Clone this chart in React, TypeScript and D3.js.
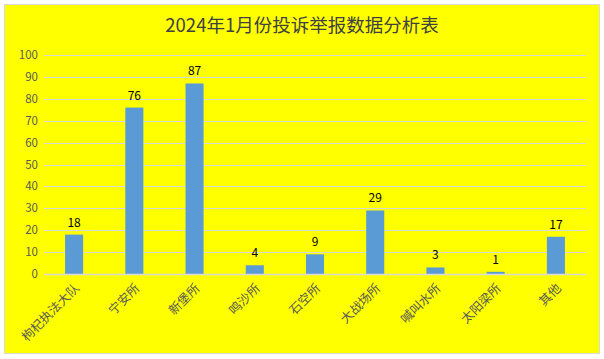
import React from "react";
import * as d3 from "d3";

const categories = ["枸杞执法大队", "宁安所", "新堡所", "鸣沙所", "石空所", "大战场所", "喊叫水所", "太阳梁所", "其他"];
const values = [18, 76, 87, 4, 9, 29, 3, 1, 17];
const yTicks = [0, 10, 20, 30, 40, 50, 60, 70, 80, 90, 100];
const title = "2024年1月份投诉举报数据分析表";

export default function App() {
  const W = 604, H = 359;
  const left = 44, right = 586, top = 55, bottom = 274;
  const x = d3.scaleBand<string>().domain(categories).range([left, right]).paddingInner(0.7).paddingOuter(0.35);
  const y = d3.scaleLinear().domain([0, 100]).range([bottom, top]);
  const font = "'Noto Sans CJK SC', 'Noto Sans', sans-serif";
  return (
    <svg width={W} height={H} style={{ position: "absolute", left: 0, top: 0 }}>
      <rect x={4.5} y={4.5} width={595} height={349} fill="#FFFF00" stroke="#d9d9d9" strokeWidth={1} />
      <text x={302} y={32} textAnchor="middle" fontFamily={font} fontSize={18.5} fill="#404040">{title}</text>
      {yTicks.map(t => (
        <g key={t}>
          {t > 0 && <line x1={left} x2={right} y1={Math.round(y(t)) + 0.5} y2={Math.round(y(t)) + 0.5} stroke="#d9d9d9" strokeWidth={1} />}
          <text x={38} y={y(t) + 4} textAnchor="end" fontFamily={font} fontSize={11.5} fill="#595959">{t}</text>
        </g>
      ))}
      {categories.map((c, i) => {
        const bx = x(c)!;
        const bw = x.bandwidth();
        const cx = bx + bw / 2;
        return (
          <g key={c}>
            <rect x={bx} y={y(values[i])} width={bw} height={bottom - y(values[i])} fill="#5B9BD5" />
            <text x={cx} y={y(values[i]) - 8} textAnchor="middle" fontFamily={font} fontSize={12} fill="#000">{values[i]}</text>
            <text transform={`translate(${cx + 6},${bottom + 15}) rotate(-45)`} textAnchor="end" fontFamily={font} fontSize={12.5} fill="#595959">{c}</text>
          </g>
        );
      })}
      <line x1={left} x2={right} y1={bottom + 0.5} y2={bottom + 0.5} stroke="#d9d9d9" strokeWidth={1.5} />
    </svg>
  );
}
